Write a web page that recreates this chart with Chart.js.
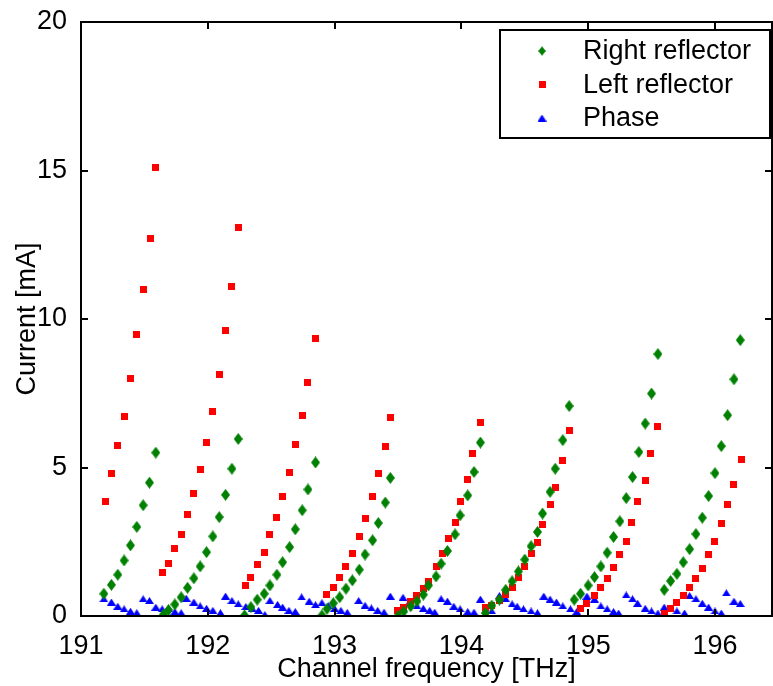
<!DOCTYPE html>
<html>
<head>
<meta charset="utf-8">
<script src="https://cdn.jsdelivr.net/npm/chart.js@4"></script>
<style>
  html, body { margin: 0; padding: 0; background: #fff; }
</style>
</head>
<body>
<canvas id="chart" width="773" height="686"></canvas>
<script>
// Right reflector (green diamonds)
const rightFreq = [
  191.18, 191.24, 191.29, 191.34, 191.39, 191.44, 191.49, 191.54, 191.59,
  191.65, 191.69, 191.74, 191.79, 191.84, 191.89, 191.94, 191.99, 192.04, 192.09, 192.14, 192.19, 192.24,
  192.29, 192.34, 192.39, 192.445, 192.49, 192.545, 192.59, 192.645, 192.69, 192.745, 192.79, 192.85,
  192.90, 192.94, 192.99, 193.04, 193.09, 193.14, 193.195, 193.24, 193.30, 193.345, 193.40, 193.44,
  193.50, 193.545, 193.60, 193.65, 193.70, 193.74, 193.80, 193.84, 193.89, 193.95, 193.99, 194.05, 194.10, 194.15,
  194.19, 194.24, 194.30, 194.35, 194.40, 194.45, 194.50, 194.55, 194.60, 194.64, 194.70, 194.74, 194.80, 194.85,
  194.89, 194.94, 195.00, 195.05, 195.10, 195.15, 195.20, 195.25, 195.30, 195.35, 195.40, 195.45, 195.50, 195.55,
  195.60, 195.65, 195.70, 195.75, 195.80, 195.85, 195.90, 195.95, 196.00, 196.05, 196.10, 196.15, 196.20
];
const rightCurrent = [
  0.75, 1.05, 1.39, 1.87, 2.38, 3.00, 3.73, 4.49, 5.50,
  0.05, 0.20, 0.39, 0.63, 0.95, 1.27, 1.67, 2.15, 2.68, 3.33, 4.08, 4.96, 5.96,
  0.02, 0.30, 0.55, 0.75, 1.03, 1.39, 1.81, 2.32, 2.92, 3.56, 4.26, 5.17,
  0.02, 0.24, 0.43, 0.63, 0.92, 1.20, 1.56, 2.07, 2.55, 3.13, 3.82, 4.65,
  0.00, 0.15, 0.33, 0.50, 0.72, 1.03, 1.33, 1.76, 2.19, 2.75, 3.39, 4.06, 4.85, 5.84,
  0.10, 0.35, 0.55, 0.88, 1.17, 1.50, 1.90, 2.35, 2.83, 3.45, 4.18, 4.96, 5.92, 7.07,
  0.55, 0.75, 1.03, 1.31, 1.67, 2.13, 2.66, 3.19, 3.97, 4.68, 5.52, 6.48, 7.49, 8.82,
  0.88, 1.18, 1.42, 1.81, 2.25, 2.76, 3.31, 4.04, 4.81, 5.72, 6.76, 7.97, 9.29
];

// Left reflector (red squares)
const leftFreq = [
  191.19, 191.24, 191.29, 191.34, 191.39, 191.44, 191.49, 191.545, 191.59,
  191.645, 191.69, 191.74, 191.79, 191.84, 191.89, 191.94, 191.99, 192.04, 192.09, 192.14, 192.19, 192.24,
  192.295, 192.34, 192.39, 192.445, 192.49, 192.545, 192.59, 192.645, 192.69, 192.745, 192.79, 192.85,
  192.94, 192.99, 193.04, 193.09, 193.14, 193.195, 193.24, 193.30, 193.345, 193.40, 193.44,
  193.50, 193.545, 193.60, 193.65, 193.70, 193.74, 193.80, 193.85, 193.90, 193.95, 193.99, 194.05, 194.09, 194.15,
  194.19, 194.24, 194.30, 194.35, 194.40, 194.45, 194.50, 194.55, 194.60, 194.64, 194.70, 194.74, 194.80, 194.85,
  194.94, 194.99, 195.05, 195.10, 195.15, 195.20, 195.25, 195.30, 195.34, 195.39, 195.45, 195.49, 195.55,
  195.60, 195.65, 195.70, 195.75, 195.80, 195.85, 195.90, 195.95, 196.00, 196.05, 196.10, 196.15, 196.21
];
const leftCurrent = [
  3.86, 4.80, 5.75, 6.73, 7.98, 9.49, 11.00, 12.70, 15.09,
  1.46, 1.76, 2.28, 2.75, 3.42, 4.12, 4.93, 5.85, 6.90, 8.14, 9.61, 11.08, 13.07,
  1.03, 1.31, 1.73, 2.14, 2.75, 3.33, 4.04, 4.84, 5.77, 6.76, 7.86, 9.35,
  0.71, 0.97, 1.29, 1.65, 2.10, 2.68, 3.28, 4.01, 4.80, 5.72, 6.68,
  0.19, 0.30, 0.50, 0.69, 0.93, 1.17, 1.65, 2.11, 2.60, 3.16, 3.85, 4.58, 5.48, 6.52,
  0.30, 0.35, 0.52, 0.71, 0.97, 1.31, 1.67, 2.10, 2.49, 3.09, 3.75, 4.34, 5.24, 6.26,
  0.24, 0.41, 0.69, 0.95, 1.25, 1.63, 2.07, 2.52, 3.14, 3.84, 4.55, 5.47, 6.37,
  0.07, 0.24, 0.47, 0.69, 0.97, 1.25, 1.61, 2.07, 2.51, 3.11, 3.75, 4.43, 5.28
];

// Phase (blue triangles)
const phaseFreq = [
  191.18, 191.24, 191.29, 191.34, 191.39, 191.44,
  191.49, 191.54, 191.59, 191.64, 191.69, 191.74, 191.79,
  191.83, 191.89, 191.94, 191.99, 192.04, 192.10,
  192.14, 192.19, 192.24, 192.30, 192.35, 192.40, 192.45,
  192.49, 192.55, 192.59, 192.64, 192.69,
  192.74, 192.80, 192.85, 192.90, 192.95, 193.00, 193.05, 193.10,
  193.19, 193.24, 193.29, 193.34, 193.39,
  193.44, 193.54, 193.59, 193.65, 193.70, 193.75, 193.79,
  193.84, 193.89, 193.94, 193.99, 194.05, 194.10,
  194.15, 194.19, 194.24,
  194.30, 194.35, 194.40, 194.44, 194.49, 194.55, 194.60,
  194.65, 194.70, 194.75, 194.80, 194.86, 194.91,
  194.99, 195.05, 195.10, 195.15, 195.20, 195.24,
  195.30, 195.35, 195.39, 195.45, 195.50, 195.55,
  195.60, 195.65, 195.70, 195.76,
  195.80, 195.85, 195.90, 195.95, 196.00, 196.05,
  196.09, 196.15, 196.20
];
const phaseCurrent = [
  0.58, 0.47, 0.33, 0.24, 0.16, 0.11,
  0.58, 0.52, 0.30, 0.24, 0.24, 0.15, 0.11,
  0.60, 0.47, 0.34, 0.26, 0.19, 0.11,
  0.67, 0.52, 0.41, 0.32, 0.26, 0.19, 0.05,
  0.52, 0.39, 0.30, 0.19, 0.15,
  0.64, 0.50, 0.38, 0.45, 0.35, 0.26, 0.19, 0.12,
  0.52, 0.36, 0.27, 0.19, 0.13,
  0.67, 0.63, 0.47, 0.34, 0.26, 0.19, 0.13,
  0.58, 0.50, 0.33, 0.24, 0.15, 0.13,
  0.57, 0.17, 0.17,
  0.69, 0.58, 0.41, 0.33, 0.24, 0.17, 0.11,
  0.67, 0.57, 0.47, 0.34, 0.24, 0.15,
  0.67, 0.57, 0.34, 0.24, 0.15, 0.10,
  0.71, 0.58, 0.43, 0.26, 0.17, 0.10,
  0.30, 0.24, 0.17, 0.10,
  0.69, 0.58, 0.43, 0.30, 0.17, 0.10,
  0.78, 0.50, 0.42
];

const xTicks = [191, 192, 193, 194, 195, 196];
const yTicks = [0, 5, 10, 15, 20];
const seriesNames = ["Right reflector", "Left reflector", "Phase"];

const FONT = '"Liberation Sans", Arial, sans-serif';

// little canvases used as point markers
function marker(w, h, color, shape) {
  const c = document.createElement("canvas");
  c.width = w; c.height = h;
  const g = c.getContext("2d");
  g.fillStyle = color;
  g.beginPath();
  if (shape === "diamond") {
    g.moveTo(w / 2, 0); g.lineTo(w, h / 2); g.lineTo(w / 2, h); g.lineTo(0, h / 2);
  } else if (shape === "triangle") {
    g.moveTo(w / 2, 0); g.lineTo(w, h); g.lineTo(0, h);
  } else {
    g.rect(0, 0, w, h);
  }
  g.closePath();
  g.fill();
  return c;
}

const greenDiamond = marker(9, 12, "#008000", "diamond");
const redSquare = marker(7, 7, "#ff0000", "rect");
const blueTriangle = marker(9, 7, "#0000ff", "triangle");

function zip(xs, ys) {
  return xs.map((x, i) => ({ x: x, y: ys[i] }));
}

// axes box with inward ticks, plus the legend box
const framePlugin = {
  id: "frame",
  afterDraw(chart) {
    const { ctx, chartArea: a, scales } = chart;
    const x = scales.x, y = scales.y;
    ctx.save();
    ctx.strokeStyle = "#000";
    ctx.lineWidth = 2;
    ctx.strokeRect(a.left, a.top, a.right - a.left, a.bottom - a.top);
    ctx.beginPath();
    xTicks.forEach(v => {
      const px = Math.round(x.getPixelForValue(v));
      ctx.moveTo(px, a.bottom); ctx.lineTo(px, a.bottom - 7);
      ctx.moveTo(px, a.top); ctx.lineTo(px, a.top + 7);
    });
    yTicks.forEach(v => {
      const py = Math.round(y.getPixelForValue(v));
      ctx.moveTo(a.left, py); ctx.lineTo(a.left + 7, py);
      ctx.moveTo(a.right, py); ctx.lineTo(a.right - 7, py);
    });
    ctx.stroke();

    // legend
    const bw = 270, bh = 108;
    const bx = a.right - 2 - bw, by = a.top + 8;
    ctx.fillStyle = "#fff";
    ctx.fillRect(bx, by, bw, bh);
    ctx.strokeRect(bx, by, bw, bh);
    const marks = [greenDiamond, redSquare, blueTriangle];
    ctx.font = "27px " + FONT;
    ctx.fillStyle = "#000";
    ctx.textBaseline = "middle";
    seriesNames.forEach((name, i) => {
      const ry = by + 21 + i * 33.5;
      const m = marks[i];
      const s = i === 0 ? 0.8 : 1;
      ctx.drawImage(m, bx + 42 - m.width * s / 2, ry - m.height * s / 2, m.width * s, m.height * s);
      ctx.fillText(name, bx + 83, ry + 1);
    });
    ctx.restore();
  }
};

new Chart(document.getElementById("chart"), {
  type: "scatter",
  data: {
    datasets: [
      { label: seriesNames[0], data: zip(rightFreq, rightCurrent), pointStyle: greenDiamond, pointRadius: 5 },
      { label: seriesNames[1], data: zip(leftFreq, leftCurrent), pointStyle: redSquare, pointRadius: 4 },
      { label: seriesNames[2], data: zip(phaseFreq, phaseCurrent), pointStyle: blueTriangle, pointRadius: 4 }
    ]
  },
  options: {
    responsive: false,
    animation: false,
    layout: { autoPadding: false, padding: { top: 22, right: 1, left: 0, bottom: 0 } },
    plugins: {
      legend: { display: false },
      tooltip: { enabled: false }
    },
    scales: {
      x: {
        type: "linear",
        min: 191,
        max: 196.45,
        afterBuildTicks: s => { s.ticks = xTicks.map(v => ({ value: v })); },
        afterFit: s => { s.height = 70; s.paddingLeft = 0; s.paddingRight = 0; },
        grid: { display: false },
        border: { display: false },
        ticks: { color: "#000", font: { size: 27, family: FONT }, padding: 6, maxRotation: 0 },
        title: {
          display: true, text: "Channel frequency [THz]", color: "#000",
          font: { size: 27, family: FONT }, padding: { top: 0, bottom: 0 }
        }
      },
      y: {
        type: "linear",
        min: 0,
        max: 20,
        afterBuildTicks: s => { s.ticks = yTicks.map(v => ({ value: v })); },
        afterFit: s => { s.width = 81; s.paddingTop = 0; s.paddingBottom = 0; },
        grid: { display: false },
        border: { display: false },
        ticks: { color: "#000", font: { size: 27, family: FONT }, padding: 6 },
        title: {
          display: true, text: "Current [mA]", color: "#000",
          font: { size: 27, family: FONT }, padding: { top: 11, bottom: 0 }
        }
      }
    }
  },
  plugins: [framePlugin]
});
</script>
</body>
</html>
